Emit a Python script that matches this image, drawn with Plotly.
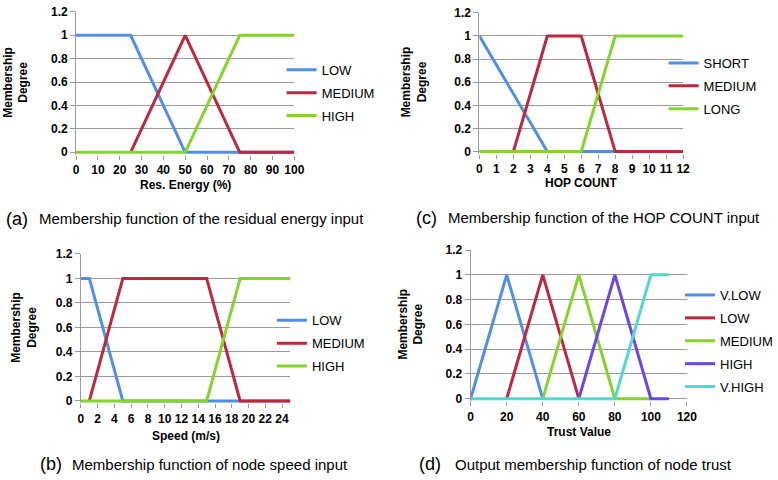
import plotly.graph_objects as go

W, H = 778, 480
FONT = "Liberation Sans, Arial, Helvetica, sans-serif"

# ---------------- data ----------------
# (a) residual energy
a_low_x = [0, 25, 50, 75, 100]
a_low_y = [1, 1, 0, 0, 0]
a_med_x = [25, 50, 75, 100]
a_med_y = [0, 1, 0, 0]
a_high_x = [0, 50, 75, 100]
a_high_y = [0, 0, 1, 1]

# (c) hop count
c_short_x = [0, 4, 12]
c_short_y = [1, 0, 0]
c_med_x = [2, 4, 6, 8, 12]
c_med_y = [0, 1, 1, 0, 0]
c_long_x = [0, 6, 8, 12]
c_long_y = [0, 0, 1, 1]

# (b) speed
b_low_x = [0, 1, 5, 25]
b_low_y = [1, 1, 0, 0]
b_med_x = [1, 5, 15, 19, 25]
b_med_y = [0, 1, 1, 0, 0]
b_high_x = [0, 15, 19, 25]
b_high_y = [0, 0, 1, 1]

# (d) trust output
d_vlow_x = [0, 20, 40]
d_vlow_y = [0, 1, 0]
d_low_x = [20, 40, 60]
d_low_y = [0, 1, 0]
d_med_x = [40, 60, 80, 100]
d_med_y = [0, 1, 0, 0]
d_high_x = [60, 80, 100, 110]
d_high_y = [0, 1, 0, 0]
d_vhigh_x = [0, 80, 100, 110]
d_vhigh_y = [0, 0, 1, 1]

a_names = ["LOW", "MEDIUM", "HIGH"]
c_names = ["SHORT", "MEDIUM", "LONG"]
b_names = ["LOW", "MEDIUM", "HIGH"]
d_names = ["V.LOW", "LOW", "MEDIUM", "HIGH", "V.HIGH"]

x_titles = ["Res. Energy (%)", "HOP COUNT", "Speed (m/s)", "Trust Value"]
y_title = "Membership<br>Degree"
caption_tags = ["(a)", "(c)", "(b)", "(d)"]
captions = [
    "Membership function of the residual energy input",
    "Membership function of the HOP COUNT input",
    "Membership function of node speed input",
    "Output membership function of node trust",
]

BLUE, RED, GREEN, PURPLE, CYAN = "#4F8FEA", "#C0273D", "#84D42C", "#6B45E8", "#52D8D3"

panels = [
    dict(series=[(a_low_x, a_low_y), (a_med_x, a_med_y), (a_high_x, a_high_y)],
         names=a_names, colors=[BLUE, RED, GREEN],
         px=(75, 299, 149, 5), xr=(0, 100), dtick=10,
         leg=(286, 49), ytitle_x=13, xtitle_y=183, cap_y=217, tag_x=1, cap_x=35),
    dict(series=[(c_short_x, c_short_y), (c_med_x, c_med_y), (c_long_x, c_long_y)],
         names=c_names, colors=[BLUE, RED, GREEN],
         px=(489, 698, 148.3, 6), xr=(0, 12), dtick=1,
         leg=(678, 42), ytitle_x=422, xtitle_y=181, cap_y=216, tag_x=422, cap_x=455),
    dict(series=[(b_low_x, b_low_y), (b_med_x, b_med_y), (b_high_x, b_high_y)],
         names=b_names, colors=[BLUE, RED, GREEN],
         px=(80, 295, 404, 253.3), xr=(0, 25), dtick=2,
         leg=(276, 306), ytitle_x=22, xtitle_y=440, cap_y=469, tag_x=36, cap_x=69),
    dict(series=[(d_vlow_x, d_vlow_y), (d_low_x, d_low_y), (d_med_x, d_med_y),
                 (d_high_x, d_high_y), (d_vhigh_x, d_vhigh_y)],
         names=d_names, colors=[BLUE, RED, GREEN, PURPLE, CYAN],
         px=(480, 702, 401.7, 249.3), xr=(0, 120), dtick=20,
         leg=(695, 280), ytitle_x=419, xtitle_y=436, cap_y=469, tag_x=425, cap_x=462),
]

YPAD = 0.02
fig = go.Figure()
annotations = []
for i, p in enumerate(panels):
    n = "" if i == 0 else str(i + 1)
    x0, x1, yb, yt = p["px"]
    ppu = (yb - yt) / 1.2
    ybot = yb + YPAD * ppu
    xdom = [x0 / W, x1 / W]
    ydom = [1 - ybot / H, 1 - yt / H]
    legname = "legend" + n
    for k, ((xs, ys), nm, col) in enumerate(zip(p["series"], p["names"], p["colors"])):
        fig.add_trace(go.Scatter(
            x=xs, y=ys, mode="lines", name=nm,
            line=dict(color=col, width=3),
            xaxis="x" + n, yaxis="y" + n,
            legend=legname, legendgroup=f"{i}-{k}",
            hoverinfo="skip",
        ))
    fig.update_layout(**{
        "xaxis" + n: dict(domain=xdom, range=list(p["xr"]), dtick=p["dtick"], tick0=0,
                          showgrid=False, zeroline=False, showline=False,
                          ticks="outside", ticklen=4, tickcolor="#999999",
                          tickfont=dict(family=FONT, size=12, color="#000", weight="bold"),
                          anchor="y" + n, fixedrange=True),
        "yaxis" + n: dict(domain=ydom, range=[-YPAD, 1.2], dtick=0.2, tick0=0,
                          showgrid=True, gridcolor="#9a9a9a", gridwidth=1,
                          zeroline=False, showline=True, linecolor="#9a9a9a", linewidth=1,
                          ticks="outside", ticklen=5, tickcolor="#9a9a9a",
                          tickfont=dict(family=FONT, size=12, color="#000", weight="bold"),
                          anchor="x" + n, fixedrange=True),
        legname: dict(x=p["leg"][0] / W, y=1 - p["leg"][1] / H, xanchor="left", yanchor="top",
                      bgcolor="rgba(0,0,0,0)", itemwidth=30, tracegroupgap=3,
                      font=dict(family=FONT, size=13, color="#000")),
    })
    # y title
    annotations.append(dict(text=y_title, x=p["ytitle_x"] / W, y=1 - ((yb + yt) / 2) / H,
                            xref="paper", yref="paper", textangle=-90, showarrow=False,
                            xanchor="center", yanchor="middle",
                            font=dict(family=FONT, size=12, color="#000", weight="bold")))
    # x title
    annotations.append(dict(text=x_titles[i], x=((x0 + x1) / 2) / W, y=1 - p["xtitle_y"] / H,
                            xref="paper", yref="paper", showarrow=False,
                            xanchor="center", yanchor="middle",
                            font=dict(family=FONT, size=12, color="#000", weight="bold")))
    # caption
    annotations.append(dict(text=caption_tags[i], x=p["tag_x"] / W, y=1 - p["cap_y"] / H,
                            xref="paper", yref="paper", showarrow=False,
                            xanchor="left", yanchor="middle",
                            font=dict(family=FONT, size=18, color="#000")))
    annotations.append(dict(text=captions[i], x=p["cap_x"] / W, y=1 - p["cap_y"] / H,
                            xref="paper", yref="paper", showarrow=False,
                            xanchor="left", yanchor="middle",
                            font=dict(family=FONT, size=15, color="#000")))

fig.update_layout(
    width=W, height=H,
    margin=dict(l=0, r=0, t=0, b=0),
    paper_bgcolor="white", plot_bgcolor="white",
    annotations=annotations,
    showlegend=True,
)

fig.write_html("out.html", config={"displayModeBar": False},
               post_script="document.body.style.margin='0';")
